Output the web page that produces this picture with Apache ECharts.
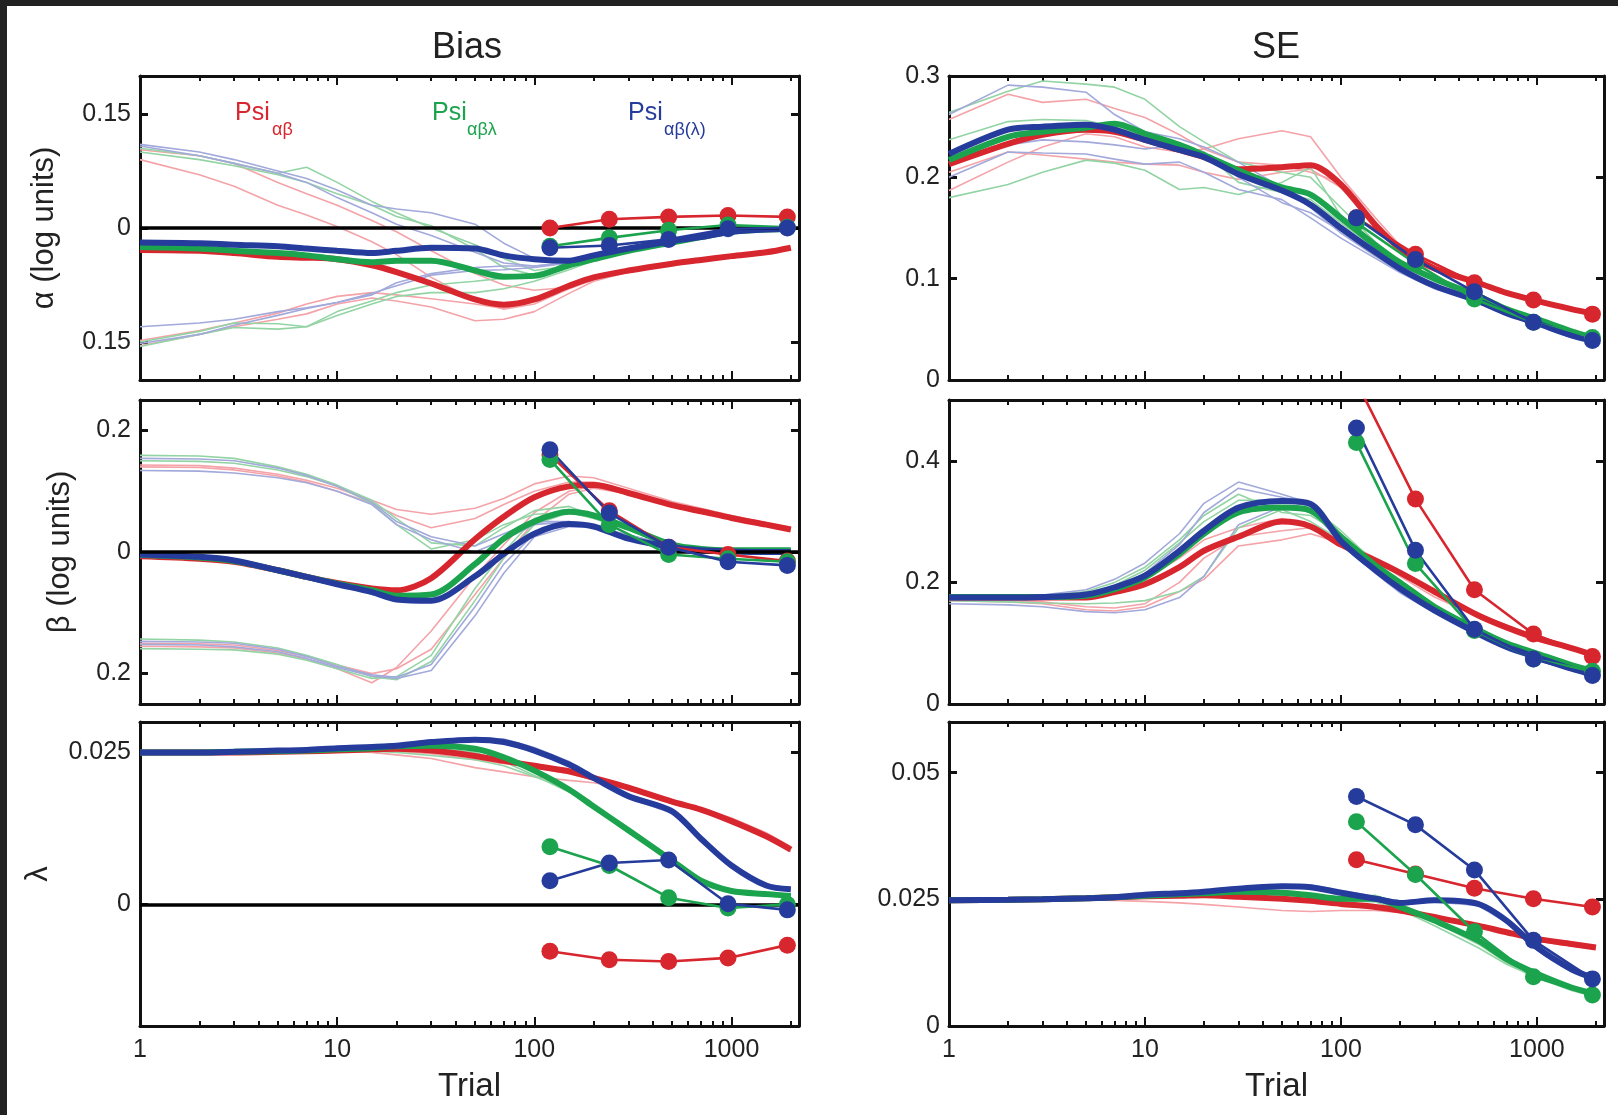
<!DOCTYPE html>
<html>
<head>
<meta charset="utf-8">
<title>Bias and SE of Psi estimates</title>
<script src="https://cdn.jsdelivr.net/npm/echarts@6/dist/echarts.min.js"></script>
<style>
  html, body { margin: 0; padding: 0; background: #fff; }
  #chart { width: 1618px; height: 1115px; }
</style>
</head>
<body>
<div id="chart"></div>
<script>
// trial numbers used for the running curves, and the block ends for the dotted curves
const trials = [1, 2, 3, 5, 7, 10, 15, 20, 30, 50, 70, 100, 150, 200, 300, 500, 700, 1000, 1500, 2000];
const dotTrials = [120, 240, 480, 960, 1920];
const xTickLabels = [1, 10, 100, 1000];

// ---- alpha bias ----
const aBiasRed = [-0.029, -0.030, -0.033, -0.038, -0.039, -0.041, -0.049, -0.058, -0.073, -0.094, -0.101, -0.094, -0.076, -0.065, -0.056, -0.047, -0.042, -0.037, -0.032, -0.026];
const aBiasGreen = [-0.025, -0.027, -0.030, -0.033, -0.036, -0.041, -0.045, -0.043, -0.043, -0.056, -0.064, -0.063, -0.049, -0.041, -0.030, -0.019, -0.012, -0.005, -0.002, -0.001];
const aBiasBlue = [-0.019, -0.020, -0.022, -0.024, -0.027, -0.030, -0.033, -0.030, -0.026, -0.027, -0.036, -0.041, -0.043, -0.036, -0.027, -0.017, -0.012, -0.005, -0.002, -0.001];
const aBiasDotRed = [0.000, 0.0115, 0.0146, 0.0165, 0.0146];
const aBiasDotGreen = [-0.024, -0.013, -0.003, 0.004, 0.001];
const aBiasDotBlue = [-0.026, -0.023, -0.015, -0.001, 0.000];
const aBiasThinRed = [
  [0.103, 0.095, 0.085, 0.060, 0.045, 0.030, 0.010, -0.005, -0.030, -0.060, -0.075, -0.082, -0.078, -0.068, -0.058, -0.048, -0.043, -0.038, -0.033, -0.028],
  [0.090, 0.070, 0.055, 0.030, 0.017, 0.002, -0.018, -0.035, -0.065, -0.095, -0.107, -0.100, -0.080, -0.068, -0.058, -0.048, -0.043, -0.038, -0.033, -0.028],
  [-0.155, -0.140, -0.130, -0.120, -0.113, -0.100, -0.092, -0.096, -0.104, -0.122, -0.120, -0.110, -0.086, -0.070, -0.058, -0.048, -0.042, -0.037, -0.032, -0.027],
  [-0.148, -0.135, -0.125, -0.112, -0.100, -0.090, -0.085, -0.088, -0.093, -0.100, -0.106, -0.097, -0.079, -0.067, -0.057, -0.047, -0.042, -0.037, -0.032, -0.027]
];
const aBiasThinGreen = [
  [0.105, 0.095, 0.085, 0.072, 0.080, 0.060, 0.035, 0.020, 0.000, -0.022, -0.040, -0.056, -0.050, -0.042, -0.031, -0.020, -0.013, -0.006, -0.002, -0.001],
  [0.100, 0.090, 0.082, 0.070, 0.060, 0.045, 0.030, 0.015, 0.003, -0.028, -0.052, -0.062, -0.051, -0.042, -0.031, -0.020, -0.013, -0.006, -0.002, -0.001],
  [-0.156, -0.140, -0.131, -0.133, -0.130, -0.115, -0.100, -0.090, -0.085, -0.085, -0.080, -0.070, -0.055, -0.043, -0.030, -0.019, -0.012, -0.005, -0.002, -0.001],
  [-0.150, -0.136, -0.125, -0.126, -0.130, -0.110, -0.096, -0.085, -0.075, -0.070, -0.066, -0.060, -0.050, -0.041, -0.029, -0.019, -0.012, -0.005, -0.002, -0.001]
];
const aBiasThinBlue = [
  [0.110, 0.100, 0.090, 0.075, 0.065, 0.050, 0.030, 0.025, 0.020, 0.005, -0.020, -0.040, -0.046, -0.037, -0.027, -0.017, -0.012, -0.005, -0.002, -0.001],
  [0.108, 0.095, 0.085, 0.072, 0.060, 0.040, 0.020, 0.005, -0.010, -0.032, -0.046, -0.050, -0.046, -0.037, -0.027, -0.017, -0.012, -0.005, -0.002, -0.001],
  [-0.130, -0.125, -0.120, -0.110, -0.105, -0.098, -0.088, -0.072, -0.060, -0.052, -0.050, -0.050, -0.045, -0.036, -0.026, -0.016, -0.011, -0.005, -0.002, -0.001],
  [-0.152, -0.140, -0.128, -0.115, -0.106, -0.098, -0.086, -0.076, -0.062, -0.056, -0.055, -0.052, -0.046, -0.037, -0.027, -0.017, -0.012, -0.005, -0.002, -0.001]
];

// ---- beta bias ----
const bBiasRed = [-0.007, -0.011, -0.016, -0.030, -0.041, -0.051, -0.060, -0.063, -0.043, 0.021, 0.058, 0.090, 0.108, 0.110, 0.097, 0.077, 0.067, 0.056, 0.045, 0.037];
const bBiasGreen = [-0.005, -0.009, -0.015, -0.030, -0.041, -0.052, -0.063, -0.072, -0.070, -0.020, 0.022, 0.050, 0.066, 0.060, 0.040, 0.012, 0.005, 0.003, 0.003, 0.003];
const bBiasBlue = [-0.004, -0.008, -0.014, -0.030, -0.041, -0.053, -0.066, -0.078, -0.080, -0.040, -0.003, 0.030, 0.046, 0.042, 0.022, 0.008, 0.003, 0.001, 0.000, 0.000];
const bBiasDotRed = [0.160, 0.068, 0.008, -0.004, -0.015];
const bBiasDotGreen = [0.152, 0.045, -0.004, -0.011, -0.016];
const bBiasDotBlue = [0.168, 0.064, 0.008, -0.016, -0.022];
const bBiasThinRed = [
  [0.143, 0.142, 0.138, 0.128, 0.118, 0.105, 0.085, 0.070, 0.062, 0.072, 0.088, 0.112, 0.125, 0.122, 0.105, 0.083, 0.072, 0.060, 0.048, 0.040],
  [0.140, 0.139, 0.135, 0.125, 0.115, 0.100, 0.080, 0.060, 0.040, 0.055, 0.078, 0.100, 0.115, 0.115, 0.100, 0.080, 0.070, 0.058, 0.046, 0.038],
  [-0.155, -0.156, -0.158, -0.166, -0.176, -0.192, -0.215, -0.190, -0.130, -0.040, 0.012, 0.065, 0.100, 0.108, 0.098, 0.078, 0.068, 0.057, 0.046, 0.038],
  [-0.150, -0.151, -0.153, -0.162, -0.172, -0.186, -0.200, -0.192, -0.160, -0.070, -0.010, 0.050, 0.095, 0.105, 0.096, 0.077, 0.067, 0.056, 0.045, 0.037]
];
const bBiasThinGreen = [
  [0.159, 0.158, 0.154, 0.140, 0.128, 0.110, 0.085, 0.055, 0.015, 0.010, 0.040, 0.068, 0.075, 0.060, 0.040, 0.012, 0.005, 0.003, 0.003, 0.003],
  [0.150, 0.149, 0.146, 0.135, 0.124, 0.108, 0.080, 0.045, 0.005, 0.020, 0.045, 0.062, 0.065, 0.055, 0.036, 0.010, 0.004, 0.003, 0.003, 0.003],
  [-0.159, -0.160, -0.161, -0.168, -0.178, -0.192, -0.208, -0.205, -0.170, -0.060, 0.000, 0.055, 0.070, 0.060, 0.040, 0.012, 0.005, 0.003, 0.003, 0.003],
  [-0.143, -0.145, -0.148, -0.158, -0.170, -0.185, -0.205, -0.210, -0.180, -0.080, -0.010, 0.045, 0.065, 0.057, 0.038, 0.012, 0.005, 0.003, 0.003, 0.003]
];
const bBiasThinBlue = [
  [0.154, 0.153, 0.150, 0.138, 0.126, 0.108, 0.082, 0.050, 0.025, 0.010, 0.030, 0.050, 0.050, 0.042, 0.028, 0.010, 0.004, 0.001, 0.000, 0.000],
  [0.134, 0.133, 0.130, 0.122, 0.114, 0.100, 0.078, 0.045, 0.020, 0.000, 0.020, 0.045, 0.050, 0.042, 0.028, 0.010, 0.004, 0.001, 0.000, 0.000],
  [-0.147, -0.148, -0.150, -0.160, -0.172, -0.188, -0.202, -0.206, -0.185, -0.090, -0.020, 0.030, 0.045, 0.040, 0.028, 0.010, 0.004, 0.001, 0.000, 0.000],
  [-0.152, -0.153, -0.156, -0.164, -0.175, -0.190, -0.204, -0.208, -0.195, -0.105, -0.035, 0.025, 0.042, 0.040, 0.028, 0.010, 0.004, 0.001, 0.000, 0.000]
];

// ---- lambda bias ----
const lBiasRed = [0.0250, 0.0250, 0.0250, 0.0251, 0.0252, 0.0253, 0.0255, 0.0256, 0.0253, 0.0244, 0.0236, 0.0228, 0.0219, 0.0208, 0.0192, 0.0169, 0.0156, 0.0137, 0.0112, 0.0090];
const lBiasGreen = [0.0250, 0.0250, 0.0251, 0.0252, 0.0253, 0.0255, 0.0257, 0.0260, 0.0261, 0.0256, 0.0242, 0.0220, 0.0189, 0.0161, 0.0122, 0.0072, 0.0039, 0.0022, 0.0017, 0.0014];
const lBiasBlue = [0.0250, 0.0250, 0.0251, 0.0253, 0.0254, 0.0257, 0.0259, 0.0261, 0.0267, 0.0271, 0.0267, 0.0253, 0.0230, 0.0208, 0.0178, 0.0153, 0.0108, 0.0064, 0.0031, 0.0025];
const lBiasDotRed = [-0.0077, -0.0091, -0.0094, -0.0088, -0.0067];
const lBiasDotGreen = [0.0095, 0.0064, 0.0011, -0.0006, 0.0000];
const lBiasDotBlue = [0.0039, 0.0068, 0.0073, 0.0001, -0.0009];
const lBiasThinRed = [
  [0.0250, 0.0250, 0.0250, 0.0251, 0.0251, 0.0252, 0.0250, 0.0246, 0.0240, 0.0225, 0.0218, 0.0210, 0.0204, 0.0200, 0.0190, 0.0172, 0.0158, 0.0142, 0.0118, 0.0095],
  [0.0250, 0.0251, 0.0252, 0.0253, 0.0254, 0.0255, 0.0254, 0.0252, 0.0248, 0.0238, 0.0232, 0.0225, 0.0215, 0.0205, 0.0188, 0.0166, 0.0153, 0.0136, 0.0110, 0.0087]
];
const lBiasThinGreen = [
  [0.0250, 0.0250, 0.0251, 0.0252, 0.0252, 0.0253, 0.0252, 0.0250, 0.0245, 0.0238, 0.0228, 0.0210, 0.0190, 0.0160, 0.0125, 0.0075, 0.0042, 0.0024, 0.0018, 0.0015],
  [0.0250, 0.0251, 0.0252, 0.0253, 0.0254, 0.0255, 0.0257, 0.0258, 0.0257, 0.0250, 0.0235, 0.0212, 0.0185, 0.0158, 0.0118, 0.0069, 0.0037, 0.0021, 0.0016, 0.0013]
];
const lBiasThinBlue = [
  [0.0250, 0.0251, 0.0252, 0.0254, 0.0255, 0.0257, 0.0261, 0.0264, 0.0269, 0.0274, 0.0272, 0.0258, 0.0235, 0.0212, 0.0182, 0.0156, 0.0111, 0.0066, 0.0033, 0.0026],
  [0.0250, 0.0251, 0.0252, 0.0253, 0.0254, 0.0256, 0.0259, 0.0260, 0.0265, 0.0269, 0.0265, 0.0251, 0.0228, 0.0205, 0.0175, 0.0150, 0.0105, 0.0062, 0.0029, 0.0024]
];

// ---- alpha SE ----
const aSeRed = [0.213, 0.233, 0.242, 0.247, 0.245, 0.237, 0.227, 0.220, 0.208, 0.210, 0.212, 0.193, 0.153, 0.130, 0.110, 0.096, 0.086, 0.078, 0.070, 0.065];
const aSeGreen = [0.217, 0.240, 0.245, 0.249, 0.253, 0.243, 0.232, 0.222, 0.207, 0.190, 0.183, 0.160, 0.133, 0.116, 0.100, 0.083, 0.070, 0.060, 0.048, 0.041];
const aSeBlue = [0.223, 0.247, 0.250, 0.252, 0.247, 0.237, 0.227, 0.220, 0.203, 0.187, 0.173, 0.150, 0.126, 0.110, 0.093, 0.078, 0.066, 0.056, 0.044, 0.038];
const aSeDotRed = [0.160, 0.124, 0.096, 0.079, 0.065];
const aSeDotGreen = [0.155, 0.115, 0.080, 0.057, 0.042];
const aSeDotBlue = [0.160, 0.119, 0.087, 0.057, 0.039];
const aSeThinRed = [
  [0.257, 0.282, 0.274, 0.277, 0.268, 0.259, 0.242, 0.228, 0.215, 0.212, 0.205, 0.195, 0.155, 0.131, 0.111, 0.097, 0.087, 0.079, 0.071, 0.066],
  [0.187, 0.215, 0.230, 0.243, 0.240, 0.230, 0.225, 0.228, 0.238, 0.246, 0.240, 0.200, 0.160, 0.133, 0.112, 0.097, 0.087, 0.079, 0.071, 0.066],
  [0.205, 0.225, 0.222, 0.218, 0.215, 0.213, 0.212, 0.205, 0.198, 0.205, 0.208, 0.190, 0.150, 0.128, 0.109, 0.095, 0.085, 0.077, 0.069, 0.064]
];
const aSeThinGreen = [
  [0.264, 0.285, 0.295, 0.292, 0.289, 0.277, 0.250, 0.235, 0.215, 0.205, 0.200, 0.170, 0.136, 0.118, 0.101, 0.084, 0.071, 0.061, 0.049, 0.042],
  [0.180, 0.193, 0.205, 0.217, 0.214, 0.207, 0.188, 0.190, 0.183, 0.195, 0.210, 0.162, 0.134, 0.117, 0.100, 0.083, 0.070, 0.060, 0.048, 0.041],
  [0.237, 0.255, 0.257, 0.256, 0.250, 0.240, 0.232, 0.225, 0.195, 0.185, 0.178, 0.155, 0.130, 0.115, 0.099, 0.082, 0.069, 0.059, 0.047, 0.040]
];
const aSeThinBlue = [
  [0.262, 0.291, 0.289, 0.284, 0.262, 0.245, 0.238, 0.230, 0.215, 0.190, 0.170, 0.145, 0.122, 0.107, 0.091, 0.077, 0.065, 0.055, 0.043, 0.037],
  [0.200, 0.225, 0.224, 0.223, 0.218, 0.213, 0.215, 0.205, 0.188, 0.178, 0.160, 0.140, 0.120, 0.106, 0.090, 0.076, 0.064, 0.054, 0.042, 0.036],
  [0.215, 0.232, 0.237, 0.235, 0.232, 0.228, 0.232, 0.225, 0.200, 0.175, 0.165, 0.147, 0.124, 0.108, 0.092, 0.077, 0.065, 0.055, 0.043, 0.037]
];

// ---- beta SE ----
const bSeRed = [0.175, 0.175, 0.175, 0.175, 0.184, 0.197, 0.225, 0.252, 0.275, 0.300, 0.292, 0.262, 0.236, 0.216, 0.185, 0.146, 0.126, 0.108, 0.092, 0.079];
const bSeGreen = [0.176, 0.176, 0.176, 0.178, 0.189, 0.208, 0.247, 0.280, 0.315, 0.323, 0.318, 0.275, 0.228, 0.200, 0.160, 0.122, 0.100, 0.083, 0.064, 0.053];
const bSeBlue = [0.175, 0.175, 0.176, 0.180, 0.192, 0.211, 0.252, 0.285, 0.323, 0.334, 0.329, 0.268, 0.220, 0.190, 0.154, 0.116, 0.094, 0.077, 0.058, 0.047];
const bSeDotRed = [0.530, 0.337, 0.188, 0.115, 0.078];
const bSeDotGreen = [0.430, 0.231, 0.121, 0.074, 0.054];
const bSeDotBlue = [0.454, 0.253, 0.123, 0.074, 0.047];
const bSeThinRed = [
  [0.172, 0.170, 0.168, 0.160, 0.158, 0.165, 0.200, 0.240, 0.275, 0.285, 0.290, 0.270, 0.240, 0.215, 0.180, 0.148, 0.129, 0.112, 0.095, 0.083],
  [0.170, 0.168, 0.165, 0.155, 0.153, 0.160, 0.185, 0.205, 0.260, 0.270, 0.280, 0.265, 0.238, 0.210, 0.176, 0.144, 0.125, 0.110, 0.094, 0.081],
  [0.178, 0.178, 0.177, 0.180, 0.190, 0.205, 0.240, 0.270, 0.290, 0.305, 0.295, 0.268, 0.235, 0.212, 0.182, 0.143, 0.123, 0.106, 0.091, 0.078]
];
const bSeThinGreen = [
  [0.176, 0.176, 0.177, 0.182, 0.195, 0.220, 0.265, 0.300, 0.335, 0.335, 0.325, 0.285, 0.232, 0.198, 0.160, 0.122, 0.100, 0.083, 0.064, 0.053],
  [0.170, 0.168, 0.166, 0.165, 0.166, 0.170, 0.185, 0.210, 0.290, 0.320, 0.300, 0.270, 0.225, 0.195, 0.158, 0.120, 0.099, 0.082, 0.063, 0.052],
  [0.178, 0.178, 0.178, 0.185, 0.200, 0.225, 0.270, 0.310, 0.345, 0.315, 0.310, 0.280, 0.230, 0.197, 0.159, 0.121, 0.100, 0.083, 0.064, 0.053]
];
const bSeThinBlue = [
  [0.176, 0.177, 0.179, 0.188, 0.205, 0.232, 0.280, 0.330, 0.365, 0.345, 0.330, 0.270, 0.218, 0.185, 0.152, 0.114, 0.092, 0.076, 0.057, 0.046],
  [0.165, 0.163, 0.160, 0.152, 0.150, 0.155, 0.175, 0.210, 0.295, 0.325, 0.320, 0.265, 0.215, 0.183, 0.150, 0.113, 0.091, 0.075, 0.056, 0.045],
  [0.172, 0.172, 0.172, 0.178, 0.190, 0.215, 0.262, 0.315, 0.355, 0.340, 0.330, 0.268, 0.216, 0.184, 0.151, 0.114, 0.092, 0.076, 0.057, 0.046]
];

// ---- lambda SE ----
const lSeRed = [0.0248, 0.0249, 0.0250, 0.0252, 0.0254, 0.0256, 0.0257, 0.0258, 0.0255, 0.0251, 0.0247, 0.0241, 0.0235, 0.0228, 0.0215, 0.0198, 0.0185, 0.0172, 0.0162, 0.0155];
const lSeGreen = [0.0248, 0.0249, 0.0250, 0.0252, 0.0254, 0.0257, 0.0260, 0.0262, 0.0265, 0.0263, 0.0258, 0.0251, 0.0251, 0.0235, 0.0208, 0.0169, 0.0132, 0.0103, 0.0076, 0.0063];
const lSeBlue = [0.0248, 0.0249, 0.0250, 0.0252, 0.0254, 0.0259, 0.0262, 0.0265, 0.0271, 0.0276, 0.0274, 0.0263, 0.0251, 0.0243, 0.0248, 0.0241, 0.0208, 0.0155, 0.0112, 0.0093];
const lSeDotRed = [0.0328, 0.0300, 0.0272, 0.0251, 0.0235];
const lSeDotGreen = [0.0403, 0.0299, 0.0186, 0.0097, 0.0061];
const lSeDotBlue = [0.0453, 0.0397, 0.0308, 0.0169, 0.0093];
const lSeThinRed = [
  [0.0250, 0.0250, 0.0250, 0.0249, 0.0248, 0.0246, 0.0243, 0.0240, 0.0235, 0.0228, 0.0226, 0.0228, 0.0228, 0.0224, 0.0212, 0.0195, 0.0182, 0.0168, 0.0158, 0.0152],
  [0.0250, 0.0250, 0.0251, 0.0252, 0.0253, 0.0254, 0.0255, 0.0256, 0.0255, 0.0252, 0.0249, 0.0244, 0.0236, 0.0226, 0.0213, 0.0198, 0.0186, 0.0174, 0.0164, 0.0157]
];
const lSeThinGreen = [
  [0.0250, 0.0250, 0.0251, 0.0252, 0.0253, 0.0255, 0.0257, 0.0259, 0.0260, 0.0258, 0.0256, 0.0255, 0.0258, 0.0240, 0.0205, 0.0162, 0.0125, 0.0098, 0.0073, 0.0060],
  [0.0250, 0.0250, 0.0251, 0.0252, 0.0253, 0.0255, 0.0257, 0.0259, 0.0262, 0.0260, 0.0254, 0.0248, 0.0245, 0.0230, 0.0198, 0.0155, 0.0122, 0.0095, 0.0070, 0.0058]
];
const lSeThinBlue = [
  [0.0250, 0.0250, 0.0251, 0.0252, 0.0254, 0.0256, 0.0262, 0.0267, 0.0274, 0.0279, 0.0278, 0.0268, 0.0255, 0.0246, 0.0252, 0.0245, 0.0212, 0.0160, 0.0115, 0.0096],
  [0.0250, 0.0250, 0.0251, 0.0252, 0.0253, 0.0255, 0.0260, 0.0264, 0.0270, 0.0274, 0.0272, 0.0260, 0.0248, 0.0240, 0.0245, 0.0238, 0.0204, 0.0150, 0.0108, 0.0090]
];

// axis ranges and tick labels, panel order: alpha/beta/lambda bias, alpha/beta/lambda SE
const yMins = [-0.2, -0.25, -0.02, 0, 0, 0];
const yMaxs = [0.2, 0.25, 0.03, 0.3, 0.5, 0.06];
const yTickLabels = [[-0.15, 0, 0.15], [-0.2, 0, 0.2], [0, 0.025], [0, 0.1, 0.2, 0.3], [0, 0.2, 0.4], [0, 0.025, 0.05]];
const yNames = ['α (log units)', 'β (log units)', 'λ', '', '', ''];

const panels = [
  { thick: [aBiasRed, aBiasGreen, aBiasBlue], dots: [aBiasDotRed, aBiasDotGreen, aBiasDotBlue], thin: [aBiasThinRed, aBiasThinGreen, aBiasThinBlue], zero: true },
  { thick: [bBiasRed, bBiasGreen, bBiasBlue], dots: [bBiasDotRed, bBiasDotGreen, bBiasDotBlue], thin: [bBiasThinRed, bBiasThinGreen, bBiasThinBlue], zero: true },
  { thick: [lBiasRed, lBiasGreen, lBiasBlue], dots: [lBiasDotRed, lBiasDotGreen, lBiasDotBlue], thin: [lBiasThinRed, lBiasThinGreen, lBiasThinBlue], zero: true },
  { thick: [aSeRed, aSeGreen, aSeBlue], dots: [aSeDotRed, aSeDotGreen, aSeDotBlue], thin: [aSeThinRed, aSeThinGreen, aSeThinBlue], zero: false },
  { thick: [bSeRed, bSeGreen, bSeBlue], dots: [bSeDotRed, bSeDotGreen, bSeDotBlue], thin: [bSeThinRed, bSeThinGreen, bSeThinBlue], zero: false },
  { thick: [lSeRed, lSeGreen, lSeBlue], dots: [lSeDotRed, lSeDotGreen, lSeDotBlue], thin: [lSeThinRed, lSeThinGreen, lSeThinBlue], zero: false }
];

const FONT = 'Liberation Sans, Arial, Helvetica, sans-serif';
const colors = ['#d7262e', '#1ba34d', '#263c9c'];
const thinColors = ['#f4a3a8', '#93d4a4', '#a2a9db'];
const names = ['Psi αβ', 'Psi αβλ', 'Psi αβ(λ)'];
const X_MAX = 2200;
const LOG_MAX = Math.log10(X_MAX);

// minor ticks for the log axis (2..9 in every decade), in log10 units for the helper axes
const minorTicks = [];
for (let d = 0; d < 4; d++) {
  for (let k = 2; k <= 9; k++) {
    const v = k * Math.pow(10, d);
    if (v < X_MAX) minorTicks.push(Math.log10(v));
  }
}

const grids = [
  { left: 140, top: 76, width: 659, height: 304 },
  { left: 140, top: 400, width: 659, height: 304 },
  { left: 140, top: 722, width: 659, height: 304 },
  { left: 949, top: 76, width: 655, height: 304 },
  { left: 949, top: 400, width: 655, height: 304 },
  { left: 949, top: 722, width: 655, height: 304 }
];
const yNameGaps = [80, 64, 86, 0, 0, 0];

const pair = (xs, ys) => xs.map((x, i) => [x, ys[i]]);
const lineAxis = { onZero: false, lineStyle: { color: '#111', width: 3 } };
const fmtAbs = (v) => String(Math.abs(Math.round(v * 1000) / 1000));

const xAxis = [];
const yAxis = [];
const series = [];

grids.forEach((g, gi) => {
  const bottomRow = gi === 2 || gi === 5;
  // bottom log axis (data axis)
  xAxis.push({
    type: 'log', logBase: 10, min: 1, max: X_MAX, gridIndex: gi, position: 'bottom',
    axisLine: lineAxis,
    axisTick: { show: true, inside: true, length: 9, lineStyle: { color: '#111', width: 2 } },
    axisLabel: {
      show: bottomRow, margin: 12, color: '#222', fontSize: 25, fontFamily: FONT,
      showMaxLabel: false,
      formatter: (v) => (xTickLabels.indexOf(Math.round(v)) >= 0 ? String(Math.round(v)) : '')
    },
    splitLine: { show: false },
    name: bottomRow ? 'Trial' : '', nameLocation: 'middle', nameGap: 44,
    nameTextStyle: { fontSize: 33, fontFamily: FONT, color: '#222' }
  });
  // bottom minor ticks
  xAxis.push({
    type: 'value', min: 0, max: LOG_MAX, gridIndex: gi, position: 'bottom',
    axisLine: { show: false, onZero: false },
    axisTick: { show: true, inside: true, length: 5, customValues: minorTicks, lineStyle: { color: '#111', width: 2 } },
    axisLabel: { show: false }, splitLine: { show: false }
  });
  // top border with major ticks
  xAxis.push({
    type: 'log', logBase: 10, min: 1, max: X_MAX, gridIndex: gi, position: 'top',
    axisLine: lineAxis,
    axisTick: { show: true, inside: true, length: 9, lineStyle: { color: '#111', width: 2 } },
    axisLabel: { show: false }, splitLine: { show: false }
  });
  // top minor ticks
  xAxis.push({
    type: 'value', min: 0, max: LOG_MAX, gridIndex: gi, position: 'top',
    axisLine: { show: false, onZero: false },
    axisTick: { show: true, inside: true, length: 5, customValues: minorTicks, lineStyle: { color: '#111', width: 2 } },
    axisLabel: { show: false }, splitLine: { show: false }
  });
  // left y axis
  yAxis.push({
    type: 'value', min: yMins[gi], max: yMaxs[gi], gridIndex: gi, position: 'left',
    axisLine: lineAxis,
    axisTick: { show: true, inside: true, length: 8, customValues: yTickLabels[gi], lineStyle: { color: '#111', width: 3 } },
    axisLabel: { show: true, customValues: yTickLabels[gi], margin: 9, color: '#222', fontSize: 25, fontFamily: FONT, formatter: fmtAbs },
    splitLine: { show: false },
    name: yNames[gi], nameLocation: 'middle', nameGap: yNameGaps[gi], nameRotate: 90,
    nameTextStyle: { fontSize: 31, fontFamily: FONT, color: '#222' }
  });
  // right border
  yAxis.push({
    type: 'value', min: yMins[gi], max: yMaxs[gi], gridIndex: gi, position: 'right',
    axisLine: lineAxis,
    axisTick: { show: true, inside: true, length: 8, customValues: yTickLabels[gi], lineStyle: { color: '#111', width: 3 } },
    axisLabel: { show: false }, splitLine: { show: false }
  });

  const xi = gi * 4;
  const yi = gi * 2;
  const p = panels[gi];

  // thin runs
  p.thin.forEach((group, c) => {
    group.forEach((vals) => {
      series.push({
        type: 'line', name: names[c], xAxisIndex: xi, yAxisIndex: yi, data: pair(trials, vals),
        symbol: 'none', silent: true, z: 2,
        lineStyle: { color: thinColors[c], width: 1.6 }
      });
    });
  });

  // zero reference line
  if (p.zero) {
    series.push({
      type: 'line', xAxisIndex: xi, yAxisIndex: yi, data: [], z: 3, silent: true,
      markLine: {
        silent: true, symbol: 'none', label: { show: false }, animation: false,
        lineStyle: { color: '#000', width: 3.5, type: 'solid' },
        data: [{ yAxis: 0 }]
      }
    });
  }

  // thick mean curves
  p.thick.forEach((vals, c) => {
    series.push({
      type: 'line', name: names[c], xAxisIndex: xi, yAxisIndex: yi, data: pair(trials, vals),
      symbol: 'none', smooth: 0.3, z: 4,
      lineStyle: { color: colors[c], width: 6 }
    });
  });

  // block estimates with markers
  p.dots.forEach((vals, c) => {
    series.push({
      type: 'line', name: names[c], xAxisIndex: xi, yAxisIndex: yi, data: pair(dotTrials, vals),
      symbol: 'circle', symbolSize: 17, showAllSymbol: true, z: 5, clip: true,
      itemStyle: { color: colors[c] },
      lineStyle: { color: colors[c], width: 2.6 }
    });
  });
});

const textEl = (x, y, text, size, color, align) => ({
  type: 'text', x: x, y: y, silent: true,
  style: { text: text, font: size + 'px ' + FONT, fill: color, textAlign: align || 'left', textVerticalAlign: 'middle' }
});

const chart = echarts.init(document.getElementById('chart'), null, { renderer: 'canvas' });
chart.setOption({
  animation: false,
  backgroundColor: '#ffffff',
  grid: grids.map((g) => Object.assign({ containLabel: false, outerBoundsMode: 'none' }, g)),
  xAxis: xAxis,
  yAxis: yAxis,
  series: series,
  graphic: [
    { type: 'rect', shape: { x: 0, y: 0, width: 1618, height: 6 }, style: { fill: '#222222' }, silent: true },
    { type: 'rect', shape: { x: 0, y: 0, width: 7, height: 1115 }, style: { fill: '#222222' }, silent: true },
    textEl(467, 48, 'Bias', 36, '#222', 'center'),
    textEl(1276, 48, 'SE', 36, '#222', 'center'),
    textEl(235, 113, 'Psi', 25, colors[0]),
    textEl(272, 130, 'αβ', 18, colors[0]),
    textEl(432, 113, 'Psi', 25, colors[1]),
    textEl(467, 130, 'αβλ', 18, colors[1]),
    textEl(628, 113, 'Psi', 25, colors[2]),
    textEl(664, 130, 'αβ(λ)', 18, colors[2])
  ]
});
</script>
</body>
</html>
